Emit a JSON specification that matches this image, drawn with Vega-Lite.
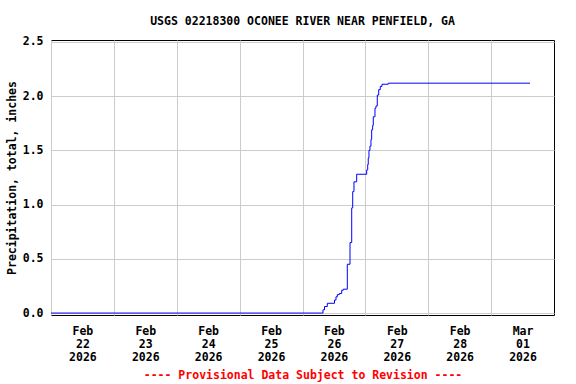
{
  "$schema": "https://vega.github.io/schema/vega-lite/v6.json",
  "width": 503,
  "height": 275,
  "autosize": "none",
  "padding": {"left": 51, "top": 40, "right": 22, "bottom": 69},
  "background": "white",
  "config": {
    "font": "DejaVu Sans Mono",
    "view": {"stroke": "black", "strokeWidth": 1},
    "axis": {"labelFont": "DejaVu Sans Mono", "labelFontWeight": "bold", "labelFontSize": 11.5, "labelColor": "black", "titleFont": "DejaVu Sans Mono", "titleFontWeight": "bold", "titleFontSize": 11.5, "gridColor": "#cccccc", "gridWidth": 1, "gridOpacity": 1, "domain": false, "ticks": false}
  },
  "title": {"text": "USGS 02218300 OCONEE RIVER NEAR PENFIELD, GA", "font": "DejaVu Sans Mono", "fontWeight": "bold", "fontSize": 11.5, "color": "black", "anchor": "middle", "offset": 8},
  "data": {"values": [
    {"t": "2026-02-22T00:00", "v": 0.0},
    {"t": "2026-02-26T07:20", "v": 0.0},
    {"t": "2026-02-26T07:49", "v": 0.03},
    {"t": "2026-02-26T08:24", "v": 0.06},
    {"t": "2026-02-26T09:28", "v": 0.09},
    {"t": "2026-02-26T12:13", "v": 0.12},
    {"t": "2026-02-26T12:47", "v": 0.15},
    {"t": "2026-02-26T13:17", "v": 0.17},
    {"t": "2026-02-26T14:03", "v": 0.18},
    {"t": "2026-02-26T14:58", "v": 0.21},
    {"t": "2026-02-26T15:34", "v": 0.22},
    {"t": "2026-02-26T17:06", "v": 0.45},
    {"t": "2026-02-26T18:08", "v": 0.65},
    {"t": "2026-02-26T18:47", "v": 0.97},
    {"t": "2026-02-26T19:10", "v": 1.12},
    {"t": "2026-02-26T19:39", "v": 1.21},
    {"t": "2026-02-26T20:41", "v": 1.28},
    {"t": "2026-02-27T00:14", "v": 1.28},
    {"t": "2026-02-27T00:30", "v": 1.32},
    {"t": "2026-02-27T00:53", "v": 1.37},
    {"t": "2026-02-27T01:06", "v": 1.43},
    {"t": "2026-02-27T01:22", "v": 1.5},
    {"t": "2026-02-27T01:45", "v": 1.54},
    {"t": "2026-02-27T02:08", "v": 1.6},
    {"t": "2026-02-27T02:24", "v": 1.69},
    {"t": "2026-02-27T02:47", "v": 1.73},
    {"t": "2026-02-27T03:01", "v": 1.81},
    {"t": "2026-02-27T03:40", "v": 1.89},
    {"t": "2026-02-27T04:03", "v": 1.91},
    {"t": "2026-02-27T04:33", "v": 2.01},
    {"t": "2026-02-27T05:05", "v": 2.06},
    {"t": "2026-02-27T05:41", "v": 2.09},
    {"t": "2026-02-27T06:20", "v": 2.11},
    {"t": "2026-02-27T08:44", "v": 2.12},
    {"t": "2026-03-01T14:51", "v": 2.12}
  ]},
  "mark": {"type": "line", "interpolate": "step-after", "color": "#0000ff", "strokeWidth": 1, "clip": true},
  "encoding": {
    "x": {
      "field": "t", "type": "temporal",
      "scale": {"domain": ["2026-02-22T00:00", "2026-03-02T00:00"], "nice": false},
      "axis": {
        "values": [
          {"year": 2026, "month": 2, "date": 22},
          {"year": 2026, "month": 2, "date": 23},
          {"year": 2026, "month": 2, "date": 24},
          {"year": 2026, "month": 2, "date": 25},
          {"year": 2026, "month": 2, "date": 26},
          {"year": 2026, "month": 2, "date": 27},
          {"year": 2026, "month": 2, "date": 28},
          {"year": 2026, "month": 3, "date": 1}
        ],
        "labelExpr": "[timeFormat(datum.value, '%b'), timeFormat(datum.value, '%d'), timeFormat(datum.value, '%Y')]",
        "labelOffset": 31.4,
        "labelLineHeight": 13.3,
        "labelPadding": 10,
        "labelOverlap": false,
        "labelFlush": false,
        "title": "---- Provisional Data Subject to Revision ----",
        "titleColor": "#ff0000",
        "titlePadding": 6
      }
    },
    "y": {
      "field": "v", "type": "quantitative",
      "scale": {"domain": [-0.018, 2.518], "nice": false, "zero": false},
      "axis": {
        "values": [0, 0.5, 1.0, 1.5, 2.0, 2.5],
        "format": ".1f",
        "labelPadding": 8,
        "title": "Precipitation, total, inches",
        "titlePadding": 5
      }
    }
  }
}
